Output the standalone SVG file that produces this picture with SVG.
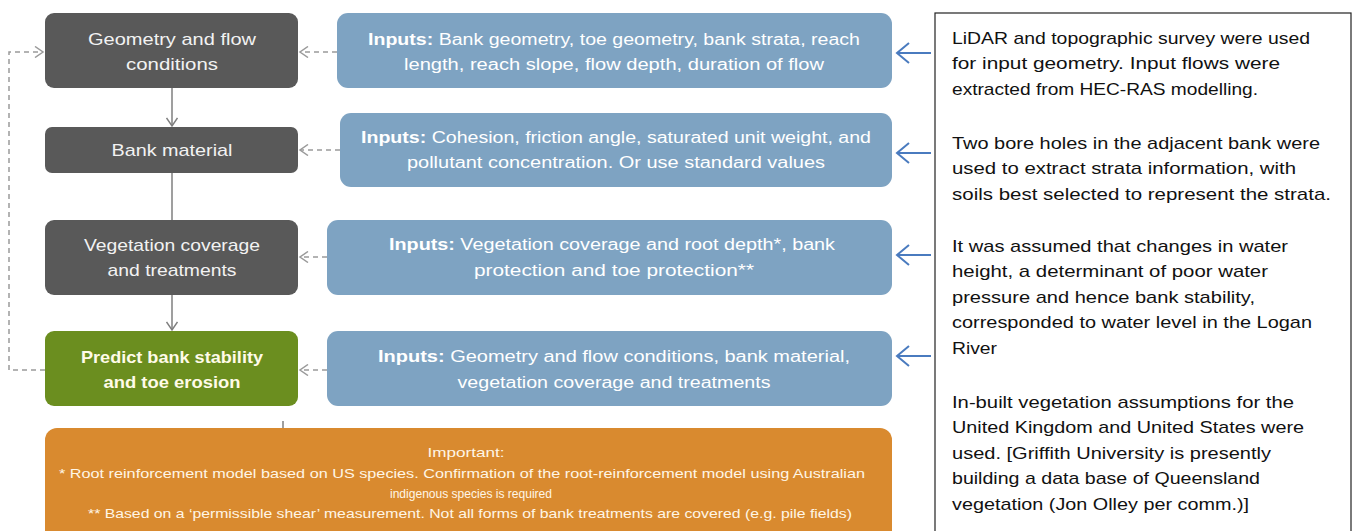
<svg xmlns="http://www.w3.org/2000/svg" width="1354" height="531" viewBox="0 0 1354 531">
  <style>
    .step { fill: #595959; }
    .final { fill: #6b8e1f; }
    .input { fill: #7ea3c2; }
    .note { fill: #d98a2f; }
    .lbl { font-family: "Liberation Sans", Arial, sans-serif; font-size: 17px; fill: #f2f2f2; text-anchor: middle; }
    .lblb { font-family: "Liberation Sans", Arial, sans-serif; font-size: 17px; font-weight: bold; fill: #fffbe8; text-anchor: middle; }
    .inp { font-family: "Liberation Sans", Arial, sans-serif; font-size: 16px; fill: #ffffff; text-anchor: middle; }
    .imp { font-family: "Liberation Sans", Arial, sans-serif; font-size: 13px; fill: #fff6e6; text-anchor: middle; }
    .side { font-family: "Liberation Sans", Arial, sans-serif; font-size: 17px; fill: #111111; }
    .dash { fill: none; stroke: #9a9a9a; stroke-width: 1.5; stroke-dasharray: 5 4; }
    .flow { fill: none; stroke: #7f7f7f; stroke-width: 1.5; }
    .src { fill: none; stroke: #4a7bbf; stroke-width: 2; }
  </style>
  <defs>
    <marker id="chevGrey" viewBox="-10 -6 12 12" markerWidth="12" markerHeight="12" refX="0" refY="0" orient="auto" markerUnits="userSpaceOnUse">
      <path d="M-8,-5.5 L0,0 L-8,5.5" fill="none" stroke="#9a9a9a" stroke-width="1.5"/>
    </marker>
    <marker id="chevFlow" viewBox="-10 -6 12 12" markerWidth="12" markerHeight="12" refX="0" refY="0" orient="auto" markerUnits="userSpaceOnUse">
      <path d="M-8,-5.5 L0,0 L-8,5.5" fill="none" stroke="#7f7f7f" stroke-width="1.5"/>
    </marker>
    <marker id="chevBlue" viewBox="-14 -12 16 24" markerWidth="16" markerHeight="24" refX="0" refY="0" orient="auto" markerUnits="userSpaceOnUse">
      <path d="M-12,-10 L0,0 L-12,10" fill="none" stroke="#4a7bbf" stroke-width="2"/>
    </marker>
  </defs>

  <rect width="1354" height="531" fill="#ffffff"/>

  <!-- connectors -->
  <g id="connectors">
    <path class="dash" d="M45,370 H9 V52 H43" marker-end="url(#chevGrey)"/>
    <path class="dash" d="M337,52 H300" marker-end="url(#chevGrey)"/>
    <path class="dash" d="M340,150 H300" marker-end="url(#chevGrey)"/>
    <path class="dash" d="M327,257 H300" marker-end="url(#chevGrey)"/>
    <path class="dash" d="M327,370 H300" marker-end="url(#chevGrey)"/>
    <path class="flow" d="M172,88 V126" marker-end="url(#chevFlow)"/>
    <path class="flow" d="M172,173 V220"/>
    <path class="flow" d="M172,295 V330" marker-end="url(#chevFlow)"/>
    <path class="flow" d="M283,421 V428"/>
    <path class="src" d="M931,53 H897" marker-end="url(#chevBlue)"/>
    <path class="src" d="M931,153 H897" marker-end="url(#chevBlue)"/>
    <path class="src" d="M931,255 H897" marker-end="url(#chevBlue)"/>
    <path class="src" d="M931,356 H897" marker-end="url(#chevBlue)"/>
  </g>

  <!-- process steps -->
  <g id="geometry">
    <rect class="step" x="45" y="13" width="253" height="75" rx="9"/>
    <text class="lbl" x="172" y="45" textLength="168" lengthAdjust="spacingAndGlyphs">Geometry  and flow</text>
    <text class="lbl" x="172" y="70" textLength="92" lengthAdjust="spacingAndGlyphs">conditions</text>
  </g>
  <g id="bank-material">
    <rect class="step" x="45" y="127" width="253" height="46" rx="7"/>
    <text class="lbl" x="172" y="156" textLength="121" lengthAdjust="spacingAndGlyphs">Bank material</text>
  </g>
  <g id="vegetation">
    <rect class="step" x="45" y="220" width="253" height="75" rx="9"/>
    <text class="lbl" x="172" y="251" textLength="176" lengthAdjust="spacingAndGlyphs">Vegetation  coverage</text>
    <text class="lbl" x="172" y="276" textLength="129" lengthAdjust="spacingAndGlyphs">and treatments</text>
  </g>
  <g id="predict">
    <rect class="final" x="45" y="331" width="253" height="75" rx="9"/>
    <text class="lblb" x="172" y="363" textLength="182" lengthAdjust="spacingAndGlyphs">Predict bank stability</text>
    <text class="lblb" x="172" y="388" textLength="137" lengthAdjust="spacingAndGlyphs">and toe erosion</text>
  </g>

  <!-- inputs -->
  <g id="inputs-geometry">
    <rect class="input" x="337" y="13" width="555" height="75" rx="11"/>
    <text class="inp" x="614" y="45" textLength="492" lengthAdjust="spacingAndGlyphs"><tspan font-weight="bold">Inputs:</tspan>  Bank geometry,  toe geometry,  bank strata, reach</text>
    <text class="inp" x="614" y="70" textLength="420" lengthAdjust="spacingAndGlyphs">length,  reach slope, flow depth,  duration of flow</text>
  </g>
  <g id="inputs-material">
    <rect class="input" x="340" y="113" width="552" height="74" rx="11"/>
    <text class="inp" x="616" y="143" textLength="510" lengthAdjust="spacingAndGlyphs"><tspan font-weight="bold">Inputs:</tspan>  Cohesion, friction angle, saturated unit weight,  and</text>
    <text class="inp" x="616" y="168" textLength="418" lengthAdjust="spacingAndGlyphs">pollutant concentration. Or use standard values</text>
  </g>
  <g id="inputs-vegetation">
    <rect class="input" x="327" y="220" width="565" height="75" rx="11"/>
    <text class="inp" x="612" y="250" textLength="446" lengthAdjust="spacingAndGlyphs"><tspan font-weight="bold">Inputs:</tspan> Vegetation  coverage and root depth*,  bank</text>
    <text class="inp" x="614" y="276" textLength="280" lengthAdjust="spacingAndGlyphs">protection and toe protection**</text>
  </g>
  <g id="inputs-predict">
    <rect class="input" x="327" y="331" width="565" height="75" rx="11"/>
    <text class="inp" x="614" y="362" textLength="472" lengthAdjust="spacingAndGlyphs"><tspan font-weight="bold">Inputs:</tspan>  Geometry  and flow conditions, bank material,</text>
    <text class="inp" x="614" y="388" textLength="313" lengthAdjust="spacingAndGlyphs">vegetation  coverage and treatments</text>
  </g>

  <!-- caveats -->
  <g id="important">
    <rect class="note" x="45" y="428" width="847" height="120" rx="12"/>
    <text class="imp" x="466" y="457" textLength="77" lengthAdjust="spacingAndGlyphs">Important:</text>
    <text class="imp" x="462" y="478" textLength="806" lengthAdjust="spacingAndGlyphs">* Root reinforcement model based on US species. Confirmation of the root-reinforcement model using Australian</text>
    <text class="imp" x="471" y="498" textLength="162" lengthAdjust="spacingAndGlyphs">indigenous species is required</text>
    <text class="imp" x="470" y="518" textLength="764" lengthAdjust="spacingAndGlyphs">** Based on a ‘permissible shear’ measurement. Not all forms of bank treatments are covered (e.g. pile fields)</text>
  </g>

  <!-- data sources -->
  <g id="sources">
    <rect x="935" y="13" width="416" height="530" fill="#ffffff" stroke="#222222" stroke-width="1.2"/>
    <text class="side" x="952" y="44" textLength="358" lengthAdjust="spacingAndGlyphs">LiDAR and topographic survey were used</text>
    <text class="side" x="952" y="69" textLength="328" lengthAdjust="spacingAndGlyphs">for input geometry.  Input flows were</text>
    <text class="side" x="952" y="95" textLength="306" lengthAdjust="spacingAndGlyphs">extracted from HEC-RAS modelling.</text>
    <text class="side" x="952" y="149" textLength="368" lengthAdjust="spacingAndGlyphs">Two bore holes in the adjacent bank were</text>
    <text class="side" x="952" y="174" textLength="344" lengthAdjust="spacingAndGlyphs">used to extract strata information, with</text>
    <text class="side" x="952" y="200" textLength="379" lengthAdjust="spacingAndGlyphs">soils best selected to represent the strata.</text>
    <text class="side" x="952" y="252" textLength="336" lengthAdjust="spacingAndGlyphs">It was assumed that changes in water</text>
    <text class="side" x="952" y="277" textLength="316" lengthAdjust="spacingAndGlyphs">height, a determinant of poor water</text>
    <text class="side" x="952" y="303" textLength="303" lengthAdjust="spacingAndGlyphs">pressure and hence bank stability,</text>
    <text class="side" x="952" y="328" textLength="360" lengthAdjust="spacingAndGlyphs">corresponded to water level in the Logan</text>
    <text class="side" x="952" y="354" textLength="45" lengthAdjust="spacingAndGlyphs">River</text>
    <text class="side" x="952" y="408" textLength="342" lengthAdjust="spacingAndGlyphs">In-built vegetation assumptions for the</text>
    <text class="side" x="952" y="433" textLength="352" lengthAdjust="spacingAndGlyphs">United Kingdom and United States were</text>
    <text class="side" x="952" y="459" textLength="319" lengthAdjust="spacingAndGlyphs">used. [Griffith University is presently</text>
    <text class="side" x="952" y="484" textLength="308" lengthAdjust="spacingAndGlyphs">building a data base of Queensland</text>
    <text class="side" x="952" y="510" textLength="297" lengthAdjust="spacingAndGlyphs">vegetation (Jon Olley per comm.)]</text>
  </g>
</svg>
